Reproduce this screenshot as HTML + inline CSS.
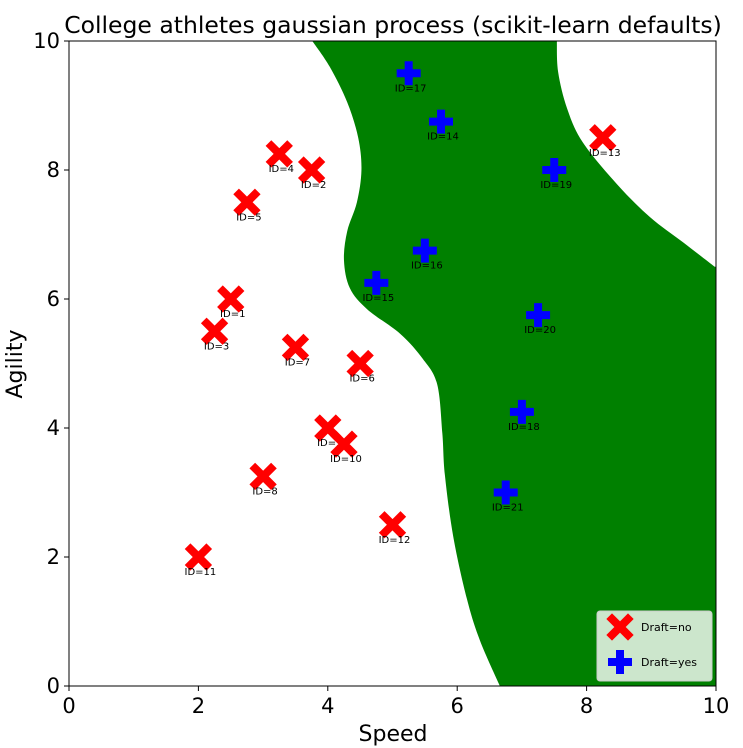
<!DOCTYPE html>
<html><head><meta charset="utf-8"><style>
body{margin:0;background:#fff;}
svg{display:block;font-family:"DejaVu Sans","Liberation Sans",sans-serif;}
</style></head><body>
<svg id="chart" width="743" height="748" xmlns="http://www.w3.org/2000/svg">
<text x="393" y="33" font-size="23.5" text-anchor="middle">College athletes gaussian process (scikit-learn defaults)</text>
<g id="plot"></g>
<text x="393" y="741" font-size="22" text-anchor="middle">Speed</text>
<text transform="translate(22,364) rotate(-90)" font-size="22" text-anchor="middle">Agility</text>
</svg>
<script>
const xTicks=[0,2,4,6,8,10];
const yTicks=[0,2,4,6,8,10];
const noIds=[1,2,3,4,5,6,7,8,9,10,11,12,13];
const noX=[2.5,3.75,2.25,3.25,2.75,4.5,3.5,3,4,4.25,2,5,8.25];
const noY=[6,8,5.5,8.25,7.5,5,5.25,3.25,4,3.75,2,2.5,8.5];
const yesIds=[14,15,16,17,18,19,20,21];
const yesX=[5.75,4.75,5.5,5.25,7,7.5,7.25,6.75];
const yesY=[8.75,6.25,6.75,9.5,4.25,8,5.75,3];
const leftBX=[3.76,4.03,4.3,4.47,4.52,4.45,4.3,4.25,4.34,4.61,5.12,5.47,5.69,5.77,5.81,5.94,6.15,6.35,6.66];
const leftBY=[10,9.6,9.05,8.5,8.0,7.5,7.05,6.6,6.17,5.84,5.46,5.07,4.68,3.92,3.27,2.31,1.35,0.71,0];
const rightBX=[9.98,9.49,8.98,8.47,7.94,7.70,7.56,7.54];
const rightBY=[6.5,6.88,7.27,7.78,8.43,8.95,9.52,10];

const L=69,R=716,T=41,B=686;
const sx=v=>L+(R-L)*v/10, sy=v=>B-(B-T)*v/10;
const NS="http://www.w3.org/2000/svg";
const plot=document.getElementById('plot');
function mk(tag,attrs,parent){const e=document.createElementNS(NS,tag);for(const k in attrs)e.setAttribute(k,attrs[k]);(parent||plot).appendChild(e);return e;}
function spline(p){
  let d='';
  for(let i=0;i<p.length-1;i++){
    const p0=p[Math.max(0,i-1)],p1=p[i],p2=p[i+1],p3=p[Math.min(p.length-1,i+2)];
    const c1=[p1[0]+(p2[0]-p0[0])/6,p1[1]+(p2[1]-p0[1])/6];
    const c2=[p2[0]-(p3[0]-p1[0])/6,p2[1]-(p3[1]-p1[1])/6];
    d+=`C${c1[0]},${c1[1]} ${c2[0]},${c2[1]} ${p2[0]},${p2[1]}`;
  }
  return d;
}
const lp=leftBX.map((v,i)=>[sx(v),sy(leftBY[i])]);
const rp=rightBX.map((v,i)=>[sx(v),sy(rightBY[i])]);
const d=`M${lp[0][0]},${lp[0][1]}`+spline(lp)+`L${sx(10)},${sy(0)}L${sx(10)},${sy(6.5)}L${rp[0][0]},${rp[0][1]}`+spline(rp)+'Z';
const reg=mk('path',{d:d,fill:'#008000'});



const frame=mk('rect',{x:L,y:T,width:R-L,height:B-T,fill:'none',stroke:'#000','stroke-width':1});



xTicks.forEach(t=>{
  const g=mk('g',{});
  
  
  mk('line',{x1:sx(t),x2:sx(t),y1:B,y2:B+5,stroke:'#000'},g);
  const tx=mk('text',{x:sx(t),y:B+27,'font-size':21,'text-anchor':'middle'},g);tx.textContent=t;
});
yTicks.forEach(t=>{
  const g=mk('g',{});
  
  
  mk('line',{x1:L-5,x2:L,y1:sy(t),y2:sy(t),stroke:'#000'},g);
  const tx=mk('text',{x:L-9,y:sy(t)+7,'font-size':21,'text-anchor':'end'},g);tx.textContent=t;
});

function xMark(cx,cy,parent){
  const s=8;
  mk('path',{d:`M${cx-s},${cy-s}L${cx+s},${cy+s}M${cx+s},${cy-s}L${cx-s},${cy+s}`,stroke:'red','stroke-width':8,'stroke-linecap':'square'},parent);
}
function plusMark(cx,cy,parent){
  mk('path',{d:`M${cx-12},${cy}H${cx+12}M${cx},${cy-12}V${cy+12}`,stroke:'blue','stroke-width':8},parent);
}
noX.forEach((v,i)=>{
  const g=mk('g',{});
  
  
  xMark(sx(v),sy(noY[i]),g);
  const t=mk('text',{x:sx(v)+2,y:sy(noY[i])+18,'font-size':10,'text-anchor':'middle'},g);t.textContent='ID='+noIds[i];
});
yesX.forEach((v,i)=>{
  const g=mk('g',{});
  
  
  plusMark(sx(v),sy(yesY[i]),g);
  const t=mk('text',{x:sx(v)+2,y:sy(yesY[i])+18,'font-size':10,'text-anchor':'middle'},g);t.textContent='ID='+yesIds[i];
});

const lg=mk('g',{});


mk('rect',{x:597,y:611,width:115,height:70,rx:3,fill:'#cce6cc',stroke:'#ccc'},lg);
const e1=mk('g',{},lg);


xMark(620,627,e1);
const t1=mk('text',{x:641,y:631,'font-size':11},e1);t1.textContent='Draft=no';
const e2=mk('g',{},lg);


plusMark(620,662,e2);
const t2=mk('text',{x:641,y:666,'font-size':11},e2);t2.textContent='Draft=yes';
</script>
</body></html>
